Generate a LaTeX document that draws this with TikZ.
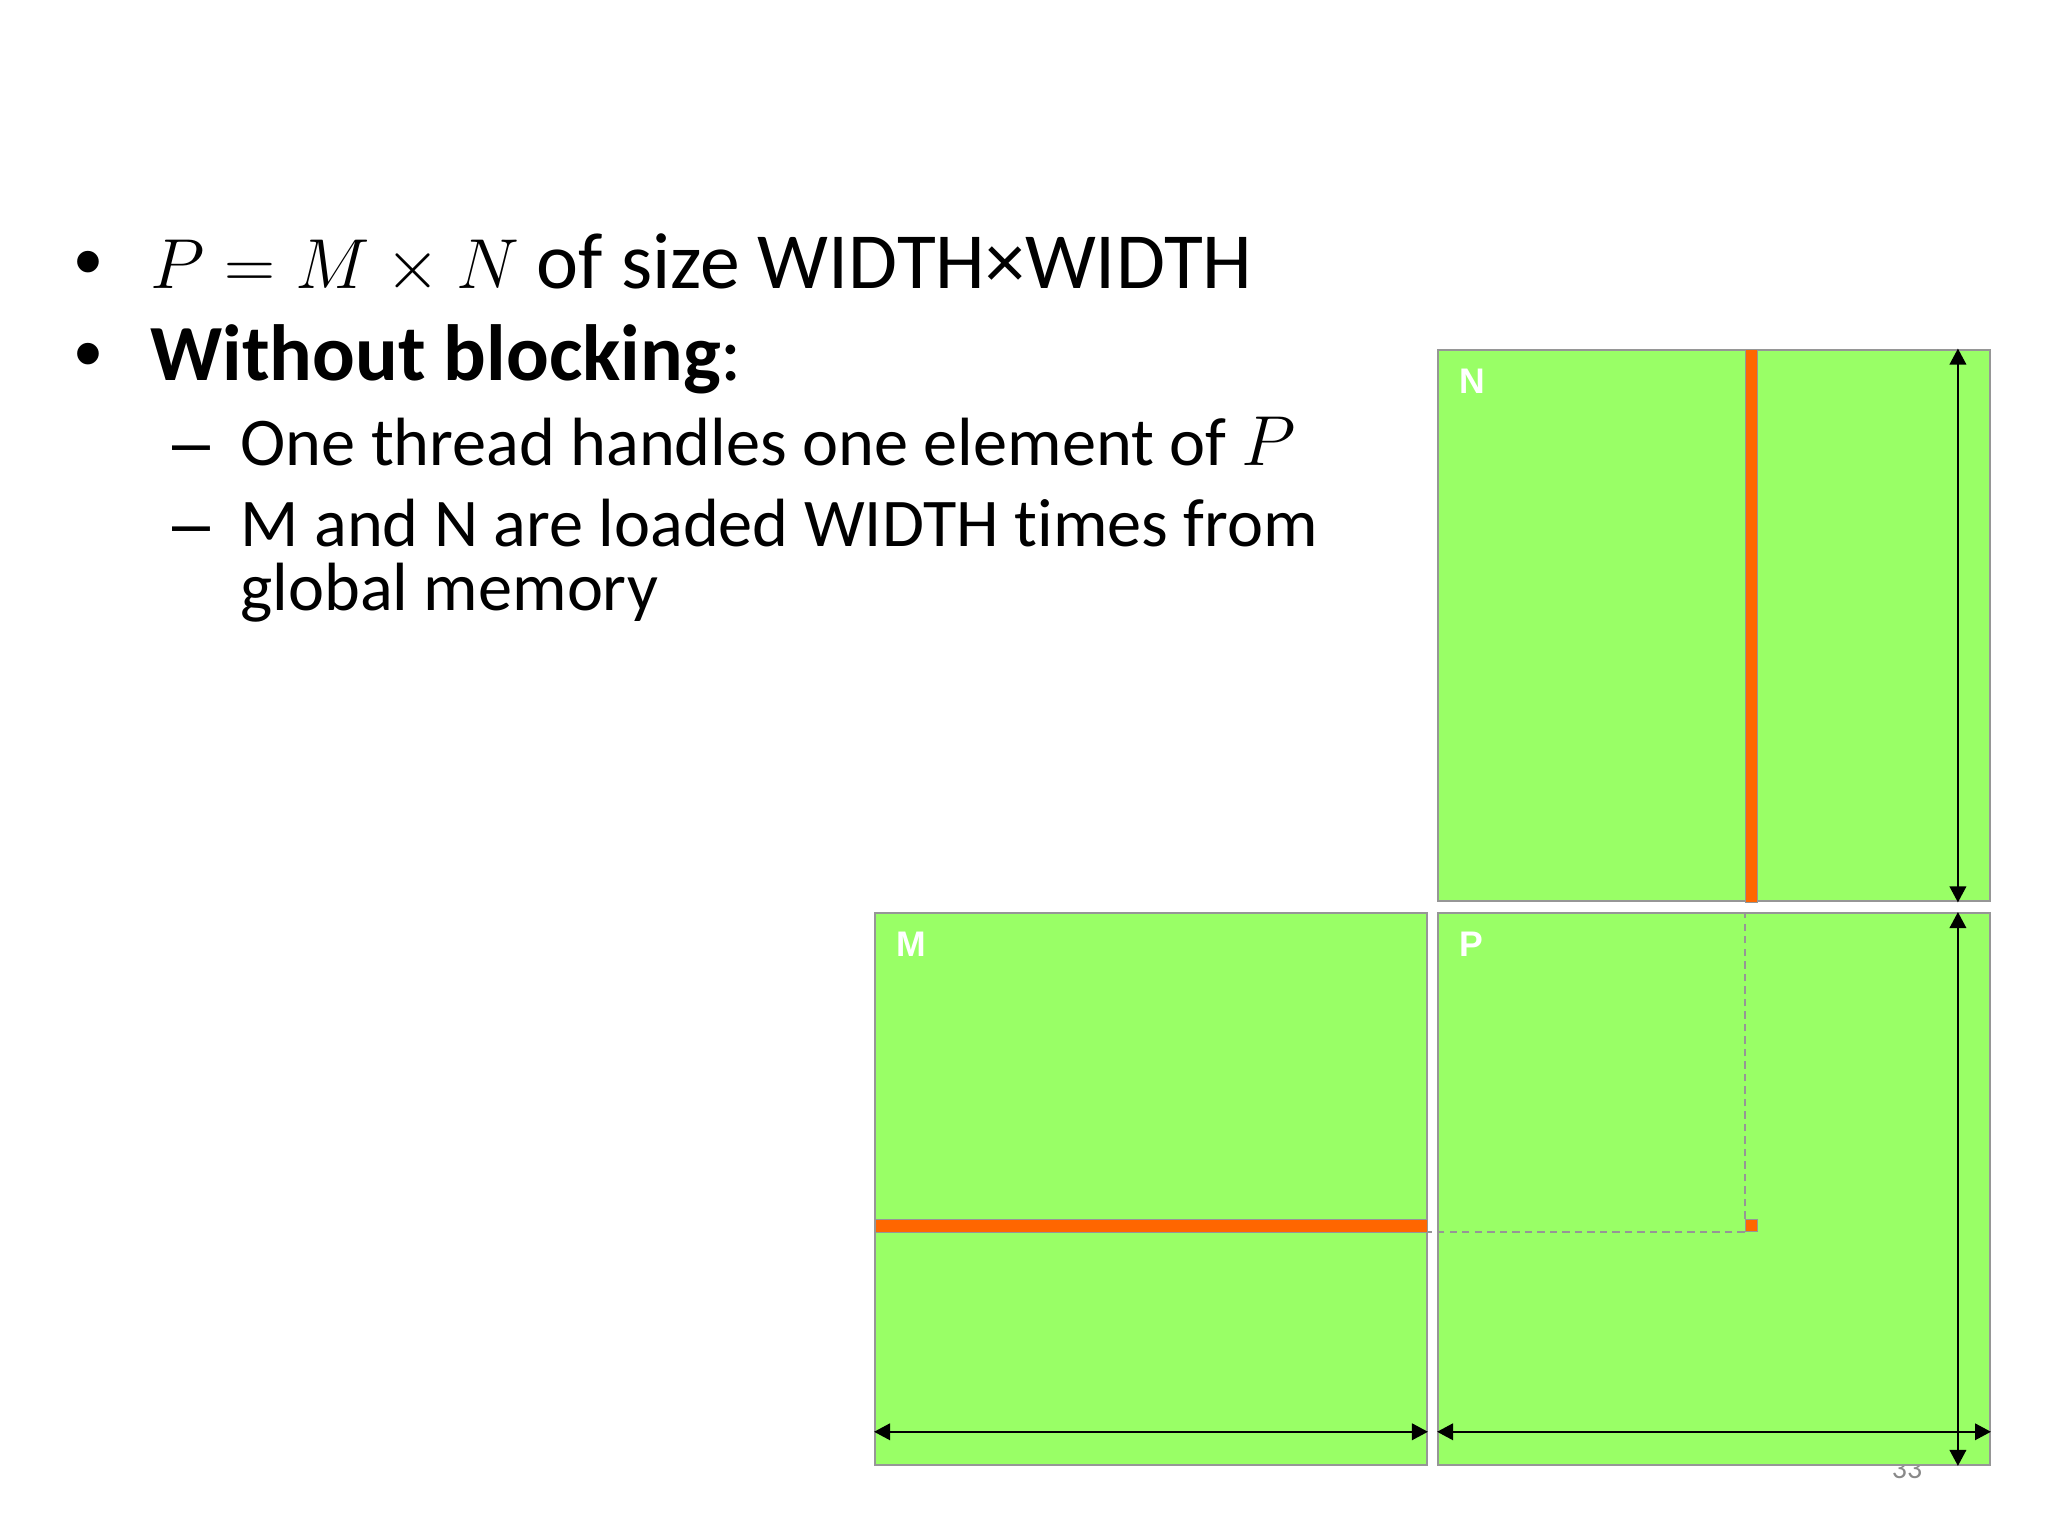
\documentclass[tikz,border=0pt]{standalone}
\usepackage{fontspec}
\setmainfont{Carlito}[Ligatures=NoCommon]
\newfontfamily\labelfont{Liberation Sans}
\usetikzlibrary{arrows.meta}
\definecolor{matgreen}{RGB}{153,255,102}
\definecolor{rowred}{RGB}{255,102,0}
\definecolor{edgegray}{RGB}{150,150,150}
\definecolor{pagegray}{RGB}{137,137,137}

\begin{document}
\begin{tikzpicture}[x=0.3515625pt, y=-0.3515625pt,
    matbox/.style={draw=edgegray, line width=0.7pt, fill=matgreen, minimum width=194pt, minimum height=194pt, inner sep=0pt},
    matlabel/.style={anchor=base west, text=white, font=\labelfont\bfseries\fontsize{12.5}{14}\selectfont, inner sep=0pt},
    strip/.style={fill=rowred, draw=edgegray, line width=0.3pt},
    cell/.style={fill=rowred, draw=edgegray, line width=0.3pt, minimum size=4.4pt, inner sep=0pt},
    guide/.style={draw=edgegray, line width=0.6pt, dash pattern=on 2.6pt off 1.8pt},
    dim/.style={line width=0.7pt, {Triangle[length=5.6pt,width=5.8pt]}-{Triangle[length=5.6pt,width=5.8pt]}},
    lone/.style={anchor=base west, inner sep=0pt, font=\fontsize{28}{34}\selectfont},
    ltwo/.style={anchor=base west, inner sep=0pt, font=\fontsize{24}{29}\selectfont}]
    \useasboundingbox (0,0) rectangle (2048,1536);
    % bullet text
    \node[lone] (b1) at (74,289) {\labelfont •};
    \node[lone] (t1) at (150,289) {$P = M \times N$ of size WIDTH×WIDTH};
    \node[lone] (b2) at (74,381) {\labelfont •};
    \node[lone] (t2) at (150,381) {\textbf{Without blocking}:};
    \node[ltwo] (d3) at (172,466) {\labelfont –};
    \node[ltwo] (t3) at (240,466) {One thread handles one element of $P$};
    \node[ltwo] (d4) at (172,547) {\labelfont –};
    \node[ltwo] (t4) at (240,547) {M and N are loaded WIDTH times from};
    \node[ltwo] (t5) at (240,611) {global memory};
    % page number, mostly under P
    \node[anchor=base, text=pagegray, font=\fontsize{10.5}{12}\selectfont] (pg) at (1907,1478) {33};
    % the three matrices
    \node[matbox] (N) at (1714,625.5) {};
    \node[matbox] (M) at (1151,1189) {};
    \node[matbox] (P) at (1714,1189) {};
    \node[matlabel] (Nlab) at (1459,394) {N};
    \node[matlabel] (Mlab) at (896,956) {M};
    \node[matlabel] (Plab) at (1459,956) {P};
    % column of N, row of M, element of P
    \draw[strip] (1745,349) rectangle (1757,902);
    \draw[strip] (875,1219) rectangle (1427,1232);
    \node[cell] (pel) at (1751.5,1225.5) {};
    \draw[guide] (pel.north west) -- (pel.north west |- P.north);
    \draw[guide] (pel.south west) -- (pel.south west -| M.east);
    % WIDTH arrows
    \draw[dim] ([xshift=-11.6pt]N.north east) -- ([xshift=-11.6pt]N.south east);
    \draw[dim] ([xshift=-11.6pt]P.north east) -- ([xshift=-11.6pt]P.south east);
    \draw[dim] ([yshift=12pt]M.south west) -- ([yshift=12pt]M.south east);
    \draw[dim] ([yshift=12pt]P.south west) -- ([yshift=12pt]P.south east);
\end{tikzpicture}
\end{document}
